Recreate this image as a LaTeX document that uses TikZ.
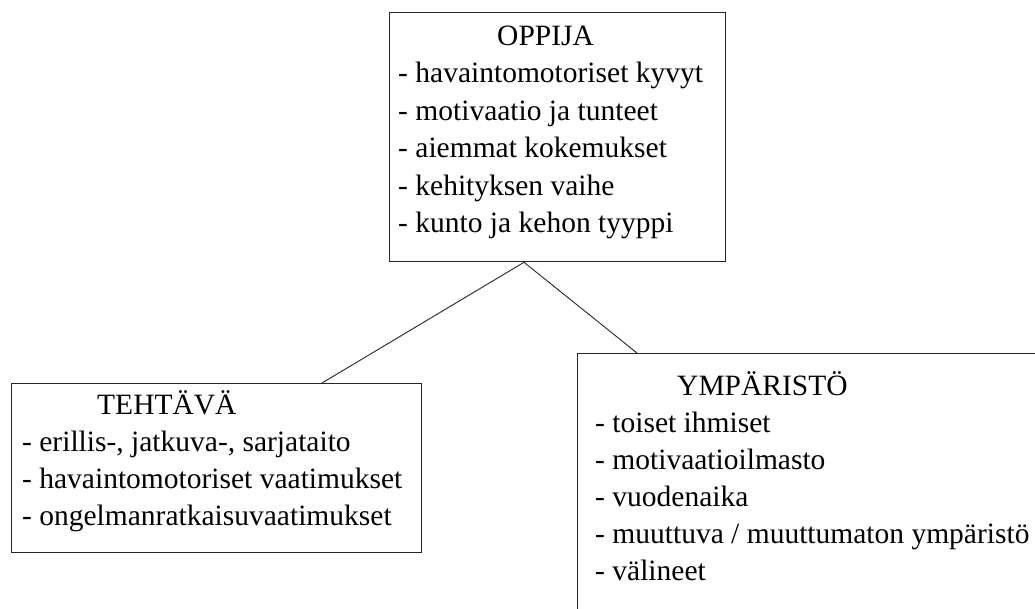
\documentclass[tikz,border=0pt]{standalone}
\usepackage{fontspec}
\setmainfont{Liberation Serif}
\usetikzlibrary{calc}
\begin{document}
\begin{tikzpicture}[x=1pt,y=-1pt,
  box/.style={draw=black!85,line width=1.3pt,fill=none,inner sep=0pt,anchor=north west},
  txt/.style={anchor=base west,inner sep=0pt,font=\fontsize{29.5}{37}\selectfont,text=black},
  link/.style={draw=black!85,line width=0.9pt}]
\clip (0,0) rectangle (1035,608);
\fill[white] (0,0) rectangle (1035,608);
% boxes
\node[box,minimum width=336pt,minimum height=249pt] (oppija) at (389,12) {};
\node[box,minimum width=410pt,minimum height=169pt] (tehtava) at (11,383) {};
\node[box,minimum width=470pt,minimum height=280pt] (ymp) at (577,353) {};
% OPPIJA
\node[txt] (ot) at (497,45) {OPPIJA};
\foreach \t [count=\i] in {{- havaintomotoriset kyvyt},{- motivaatio ja tunteet},{- aiemmat kokemukset},{- kehityksen vaihe},{- kunto ja kehon tyyppi}}
  \node[txt] (o\i) at (398,45+37.5*\i) {\t};
% TEHTAVA
\node[txt] (tt) at (97,414) {TEHTÄVÄ};
\foreach \t [count=\i] in {{- erillis-, jatkuva-, sarjataito},{- havaintomotoriset vaatimukset},{- ongelmanratkaisuvaatimukset}}
  \node[txt] (t\i) at (22,414+37*\i) {\t};
% YMPARISTO
\node[txt] (yt) at (677,395) {YMPÄRISTÖ};
\foreach \t [count=\i] in {{- toiset ihmiset},{- motivaatioilmasto},{- vuodenaika},{- muuttuva / muuttumaton ympäristö},{- välineet}}
  \node[txt] (y\i) at (595,395+37*\i) {\t};
% connectors
\draw[link] ($(oppija.south west)+(135,0)$) -- ($(tehtava.north west)+(311,0)$);
\draw[link] ($(oppija.south west)+(135,0)$) -- ($(ymp.north west)+(60,0)$);
\end{tikzpicture}
\end{document}
